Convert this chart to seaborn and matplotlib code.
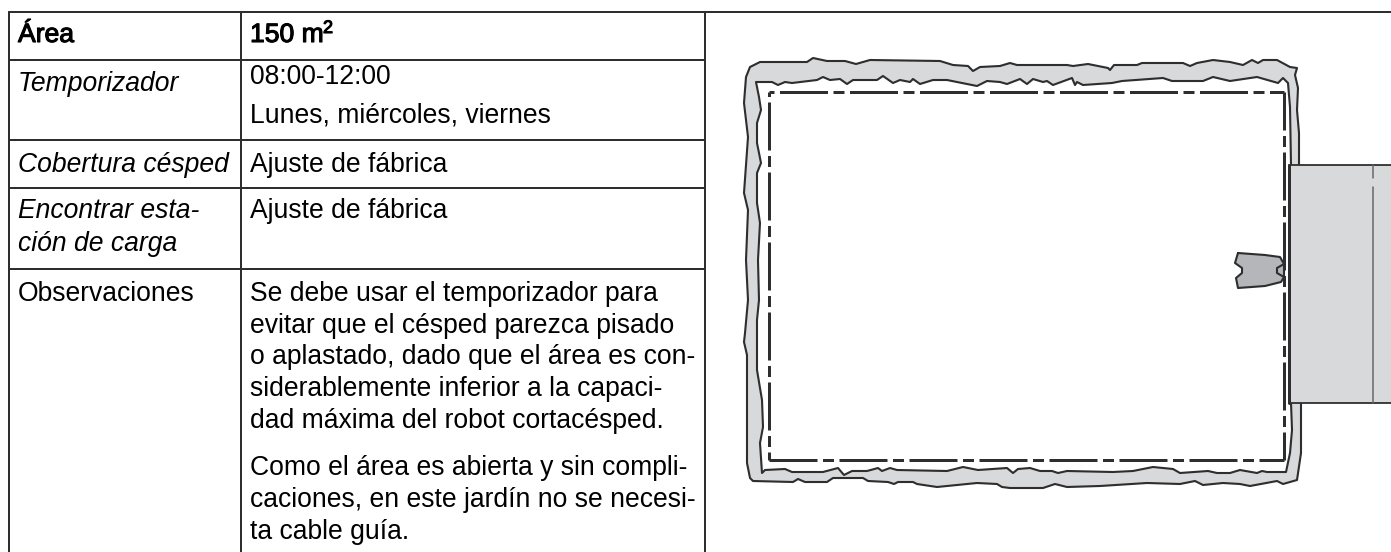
import matplotlib
matplotlib.use("Agg")
import matplotlib.pyplot as plt
import matplotlib.patheffects as pe
import seaborn as sns

sns.set_theme(style="white")
plt.rcParams['font.family'] = ['Liberation Sans', 'DejaVu Sans']

INK = "#2e2e2e"
GRASS = "#d8d9db"
ROBOT = "#b5b6b9"

# table grid
row_lines = [12, 60, 140, 188, 269]
col_lines = [9, 241, 705]
table_bottom = 552

# table cells: text, baseline y
labels_left = ["Área", "Temporizador", "Cobertura césped", "Encontrar esta-", "ción de carga", "Observaciones"]
labels_left_y = [42, 91, 172, 218, 251, 301]
labels_left_style = ["bold", "italic", "italic", "italic", "italic", "normal"]
labels_right = ["150 m", "08:00-12:00", "Lunes, miércoles, viernes", "Ajuste de fábrica", "Ajuste de fábrica",
                "Se debe usar el temporizador para", "evitar que el césped parezca pisado",
                "o aplastado, dado que el área es con-", "siderablemente inferior a la capaci-",
                "dad máxima del robot cortacésped.", "Como el área es abierta y sin compli-",
                "caciones, en este jardín no se necesi-", "ta cable guía."]
labels_right_y = [42, 84, 122, 172, 218, 301, 333, 364, 396, 428, 475, 507, 539]

# garden boundary (pixels of the drawing)
outer_x = [1301,1301,1297,1290,1283,1277,1250,1240,1223,1203,1195,1180,1147,1100,1067,1055,1043,1010,1002,997,977,957,937,917,913,898,894,888,868,863,833,827,805,798,793,753,750,747,
           747,744,745,748,746,748,744,748,744,746,750,760,
           807,813,827,845,856,870,940,953,968,973,980,1000,1010,1017,1067,1073,1088,1108,1110,1114,1137,1142,1183,1190,1197,1213,1230,1243,1252,1258,1263,1277,1290,1297,1295,1298,1297,1299,1299]
outer_y = [403,453,480,482,484,481,486,484,483,485,481,484,483,486,487,484,488,488,487,484,483,485,487,484,482,482,484,482,481,478,478,482,482,479,482,481,478,463,
           355,342,333,300,260,210,193,137,103,77,67,62,
           62,58,61,61,64,60,61,65,66,71,67,66,63,65,65,66,64,68,70,65,65,63,63,66,63,60,62,65,60,63,60,60,67,68,75,88,110,133,165]
inner_x = [1291,1290,1288,1283,1278,1257,1230,1213,1203,1180,1172,1163,1122,1112,1083,1077,1075,1072,1053,1047,1043,1033,1027,1020,1007,1000,987,977,947,933,920,913,910,900,893,883,877,853,847,840,830,823,817,792,785,778,772,756,
           759,761,757,757,761,757,757,760,758,759,757,757,762,763,760,762,
           765,785,792,823,838,844,852,867,878,882,890,897,947,963,978,1007,1013,1018,1030,1040,1052,1058,1067,1113,1133,1153,1173,1180,1208,1217,1230,1240,1257,1262,1267,1286,1290,1292,1291]
inner_y = [165,107,83,78,83,77,81,77,81,81,81,78,81,83,85,82,85,78,85,81,82,79,84,79,84,82,81,86,80,80,84,79,82,80,83,76,80,80,84,79,80,77,80,83,82,85,82,82,
           97,110,123,143,163,173,203,223,260,300,320,370,400,427,443,473,
           470,469,472,472,468,475,471,471,468,471,468,470,471,467,470,468,473,469,468,471,471,473,471,472,471,467,469,473,471,473,473,470,473,471,472,472,453,430,403]

# guide rectangle, station, robot
guide_x = [768.5, 1284]
guide_y = [92, 460]
building_x = [1289, 1392]
building_y = [165, 403]
building_seam_x = 1373
building_seam_y = [165, 178, 187, 403]
robot_x = [1238,1235,1242,1242,1236,1238,1265,1281,1284,1284,1280,1265,1238]
robot_y = [253,263,268,273,278,288,286,282,277,264,257,255,253]
notch_x = [1284,1277,1277,1284]
notch_y = [264,268,273,277]

fig = plt.figure(figsize=(13.91, 5.52), dpi=100)
ax = fig.add_axes([0, 0, 1, 1])
ax.set_xlim(0, 1391)
ax.set_ylim(552, 0)
ax.axis("off")


def path(xs, ys, **kw):
    sns.lineplot(x=xs, y=ys, sort=False, estimator=None, ax=ax, color=kw.pop("color", INK),
                 linewidth=kw.pop("linewidth", 1.2), legend=False, **kw)


px = 0.72
# table
for y in row_lines:
    path([col_lines[0], col_lines[2]], [y, y], linewidth=2 * px)
path([col_lines[2], 1391], [row_lines[0], row_lines[0]], linewidth=2 * px)
for x in col_lines:
    path([x, x], [row_lines[0], table_bottom], linewidth=2 * px)

FS = 19.1
bold_fx = [pe.withStroke(linewidth=0.8, foreground="black")]
for t, y, st in zip(labels_left, labels_left_y, labels_left_style):
    ax.text(18, y, t, fontsize=FS, color="black", va="baseline", ha="left",
            style="italic" if st == "italic" else "normal",
            path_effects=bold_fx if st == "bold" else None)
for i, (t, y) in enumerate(zip(labels_right, labels_right_y)):
    ax.text(250, y, t, fontsize=FS, color="black", va="baseline", ha="left",
            path_effects=bold_fx if i == 0 else None)
ax.text(323, 33, "2", fontsize=FS * 0.68, color="black", va="baseline", ha="left", path_effects=bold_fx)

# drawing
band_x = outer_x + inner_x
band_y = outer_y + inner_y
ax.fill(band_x, band_y, color=GRASS, lw=0, zorder=1)
path(outer_x, outer_y, linewidth=2.1 * px, zorder=2, solid_joinstyle="round")
path(inner_x, inner_y, linewidth=2.1 * px, zorder=2, solid_joinstyle="round")

ax.fill([building_x[0], building_x[1], building_x[1], building_x[0]],
        [building_y[0], building_y[0], building_y[1], building_y[1]], color=GRASS, lw=0, zorder=3)
path(building_x, [building_y[0]] * 2, linewidth=1.8 * px, zorder=4)
path(building_x, [building_y[1]] * 2, linewidth=1.8 * px, zorder=4)
path([building_x[0]] * 2, building_y, linewidth=3 * px, zorder=4)
path([building_seam_x] * 2, building_seam_y[:2], linewidth=1.5 * px, color="#666666", zorder=4)
path([building_seam_x] * 2, building_seam_y[2:], linewidth=1.5 * px, color="#666666", zorder=4)

# dash-dot guide: long, gap, short, gap
lw = 3 * px
dash = (48 * px / lw, 5.5 * px / lw, 11 * px / lw, 5.5 * px / lw)
for xs, ys, off in [
    ([guide_x[0], guide_x[1]], [guide_y[0], guide_y[0]], 59.5),
    ([guide_x[0], guide_x[1]], [guide_y[1], guide_y[1]], 0),
    ([guide_x[0], guide_x[0]], [guide_y[0], guide_y[1]], 60),
    ([guide_x[1], guide_x[1]], [guide_y[0], guide_y[1]], 10),
]:
    path(xs, ys, linewidth=lw, linestyle=(off * px / lw, dash), zorder=5)

ax.fill(robot_x, robot_y, color=ROBOT, lw=0, zorder=6)
path(robot_x, robot_y, linewidth=2.1 * px, zorder=7, solid_joinstyle="round")
path(notch_x, notch_y, linewidth=2.1 * px, zorder=7, solid_joinstyle="round")

fig.savefig("out.png", dpi=100)
